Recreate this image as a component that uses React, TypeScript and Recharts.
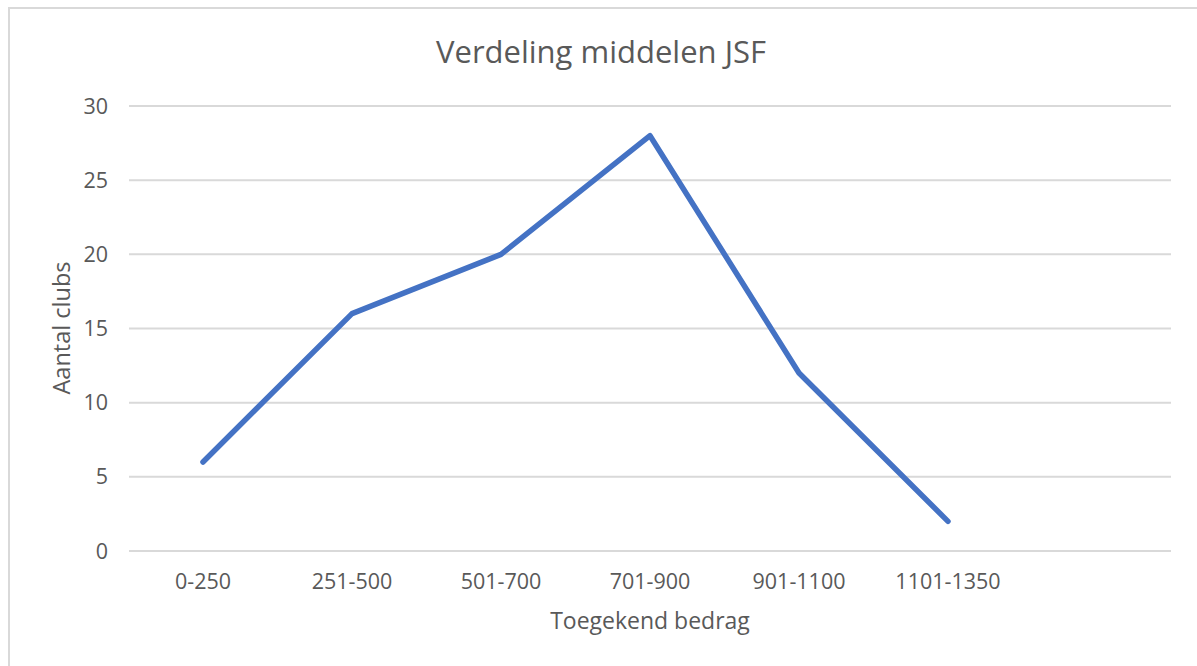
import { LineChart, Line, XAxis, YAxis, CartesianGrid } from 'recharts'

const categories = ['0-250', '251-500', '501-700', '701-900', '901-1100', '1101-1350', '']
const clubs = [6, 16, 20, 28, 12, 2, null]
const yTicks = [0, 5, 10, 15, 20, 25, 30]

const data = categories.map((c, i) => ({ range: c, clubs: clubs[i] }))

const font = '"Open Sans", sans-serif'
const textColor = '#595959'

export default function App() {
  return (
    <div style={{ position: 'absolute', left: 0, top: 0, width: 1197, height: 666, background: '#fff', fontFamily: font }}>
      <div
        style={{
          position: 'absolute',
          left: 8,
          top: 7,
          width: 1189,
          height: 659,
          borderLeft: '2px solid #d9d9d9',
          borderTop: '2px solid #d9d9d9',
          boxSizing: 'border-box',
        }}
      />
      <div
        style={{
          position: 'absolute',
          left: 601,
          top: 51,
          transform: 'translate(-50%, -50%)',
          fontSize: 31,
          color: textColor,
          whiteSpace: 'nowrap',
        }}
      >
        Verdeling middelen JSF
      </div>
      <div
        style={{
          position: 'absolute',
          left: 61,
          top: 328,
          transform: 'translate(-50%, -50%) rotate(-90deg)',
          fontSize: 23.5,
          color: textColor,
          whiteSpace: 'nowrap',
        }}
      >
        Aantal clubs
      </div>
      <div
        style={{
          position: 'absolute',
          left: 650,
          top: 620,
          transform: 'translate(-50%, -50%)',
          fontSize: 23,
          color: textColor,
          whiteSpace: 'nowrap',
        }}
      >
        Toegekend bedrag
      </div>
      <div style={{ position: 'absolute', left: 0, top: 0 }}>
        <LineChart width={1197} height={666} data={data} margin={{ top: 106, right: 26, bottom: 45, left: 0 }}>
          <CartesianGrid vertical={false} stroke="#d9d9d9" strokeWidth={2} />
          <XAxis
            dataKey="range"
            height={70}
            padding={{ left: 74, right: 74 }}
            axisLine={false}
            tickLine={false}
            tickMargin={17}
            interval={0}
            tick={{ fontSize: 21.5, fill: textColor, fontFamily: font }}
          />
          <YAxis
            width={129}
            domain={[0, 30]}
            ticks={yTicks}
            axisLine={false}
            tickLine={false}
            tickMargin={15}
            tick={{ fontSize: 21.5, fill: textColor, fontFamily: font }}
          />
          <Line
            type="linear"
            dataKey="clubs"
            stroke="#4472c4"
            strokeWidth={5.5}
            strokeLinecap="round"
            strokeLinejoin="round"
            dot={false}
            activeDot={false}
            isAnimationActive={false}
          />
        </LineChart>
      </div>
    </div>
  )
}
